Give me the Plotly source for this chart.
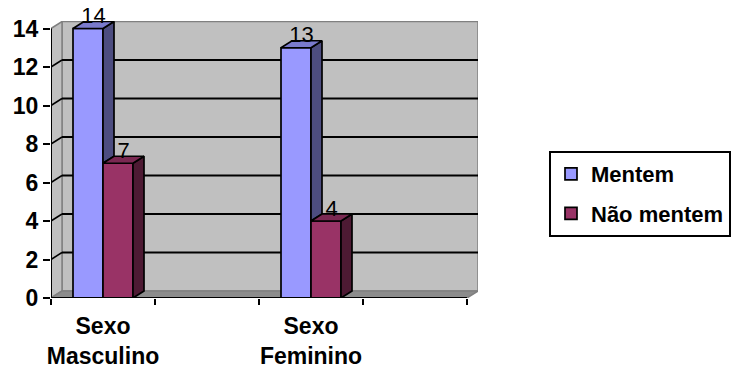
import plotly.graph_objects as go

# ---- data -------------------------------------------------------------
categories = ["Sexo<br>Masculino", "Sexo<br>Feminino"]
slots = [0, 2]                      # positions on a four-slot category axis
n_slots = 4
series_names = ["Mentem", "Não mentem"]
mentem = [14, 13]
nao_mentem = [7, 4]
y_ticks = [0, 2, 4, 6, 8, 10, 12, 14]

# ---- styling ------------------------------------------------------------
FONT = "Liberation Sans, Arial, sans-serif"
front_colors = ["#9999FF", "#993366"]
side_colors = ["#4D4D80", "#4D1A33"]
top_colors = ["#7A7ACC", "#7A2952"]
WALL = "#C0C0C0"
FLOOR = "#8C8C8C"
EDGE = "#808080"

# plot area in pixels and the oblique depth used for the 3-D look
L, T, W, H = 51, 21, 427, 277
FIG_W, FIG_H = 733, 368
X_MIN = -0.5
PX_PER_SLOT = 104.0
PX_PER_UNIT = 19.25
dx = 11 / PX_PER_SLOT
dy = 7 / PX_PER_UNIT
x_max = X_MIN + n_slots
y_top = max(y_ticks)
bar_w = 30 / PX_PER_SLOT
offsets = [-bar_w, 0.0]

fig = go.Figure()

series = [mentem, nao_mentem]

# front faces of the bars
for i, vals in enumerate(series):
    fig.add_trace(go.Bar(
        x=slots, y=vals, name=series_names[i],
        width=bar_w, offset=offsets[i],
        marker=dict(color=front_colors[i], line=dict(color="black", width=1.7)),
        legendgroup=series_names[i],
    ))

# side and top faces
for i, vals in enumerate(series):
    for j, v in enumerate(vals):
        x0 = slots[j] + offsets[i]
        x1 = x0 + bar_w
        # the part of the side face hidden by the next bar's front
        lo = min(series[i + 1][j], v) if i + 1 < len(series) else 0
        fig.add_trace(go.Scatter(
            x=[x1, x1, x1 + dx, x1 + dx, x1],
            y=[lo, v, v + dy, lo + dy, lo],
            mode="lines", fill="toself", fillcolor=side_colors[i],
            line=dict(color="black", width=1.7),
            showlegend=False, hoverinfo="skip",
        ))
        fig.add_trace(go.Scatter(
            x=[x0, x1, x1 + dx, x0 + dx, x0],
            y=[v, v, v + dy, v + dy, v],
            mode="lines", fill="toself", fillcolor=top_colors[i],
            line=dict(color="black", width=1.7),
            showlegend=False, hoverinfo="skip",
        ))

# value labels above each bar
for i, vals in enumerate(series):
    fig.add_trace(go.Scatter(
        x=[s + offsets[i] + bar_w / 2 + dx / 2 for s in slots],
        y=vals,
        text=[str(v) for v in vals],
        mode="text", textposition="top center",
        textfont=dict(family=FONT, size=22, color="black"),
        cliponaxis=False,
        showlegend=False, hoverinfo="skip",
    ))

# ---- walls, floor and gridlines -----------------------------------------
shapes = []
shapes.append(dict(type="rect", layer="below", xref="x", yref="y",
                   x0=X_MIN + dx, x1=x_max + dx, y0=dy, y1=y_top + dy,
                   fillcolor=WALL, line=dict(color=EDGE, width=1.5)))
shapes.append(dict(type="path", layer="below", xref="x", yref="y",
                   path=f"M{X_MIN},0 L{X_MIN + dx},{dy} L{X_MIN + dx},{y_top + dy} "
                        f"L{X_MIN},{y_top} Z",
                   fillcolor=WALL, line=dict(color=EDGE, width=1.5)))
shapes.append(dict(type="path", layer="below", xref="x", yref="y",
                   path=f"M{X_MIN},0 L{x_max},0 L{x_max + dx},{dy} L{X_MIN + dx},{dy} Z",
                   fillcolor=FLOOR, line=dict(color=EDGE, width=1.5)))
for v in y_ticks[1:-1]:
    shapes.append(dict(type="line", layer="below", xref="x", yref="y",
                       x0=X_MIN + dx, x1=x_max + dx, y0=v + dy, y1=v + dy,
                       line=dict(color="black", width=1.8)))
    shapes.append(dict(type="line", layer="below", xref="x", yref="y",
                       x0=X_MIN, x1=X_MIN + dx, y0=v, y1=v + dy,
                       line=dict(color="black", width=1.5)))
# axis lines
shapes.append(dict(type="line", layer="above", xref="x", yref="y",
                   x0=X_MIN, x1=X_MIN, y0=0, y1=y_top,
                   line=dict(color="black", width=2)))
shapes.append(dict(type="line", layer="above", xref="x", yref="y",
                   x0=X_MIN, x1=x_max, y0=0, y1=0,
                   line=dict(color="black", width=2)))

fig.update_layout(
    width=FIG_W, height=FIG_H,
    margin=dict(l=L, t=T, r=FIG_W - L - W, b=FIG_H - T - H, pad=0,
                autoexpand=False),
    paper_bgcolor="white", plot_bgcolor="white",
    barmode="overlay",
    shapes=shapes,
    font=dict(family=FONT, color="black"),
    showlegend=True,
    legend=dict(
        x=(549 - L) / W, y=(T + H - 151) / H, xanchor="left", yanchor="top",
        bordercolor="black", borderwidth=2, bgcolor="white",
        font=dict(family=FONT, size=22, color="black", weight="bold"),
        tracegroupgap=8,
    ),
    xaxis=dict(
        range=[X_MIN, X_MIN + W / PX_PER_SLOT], showgrid=False, zeroline=False,
        showline=False, tickmode="array", tickvals=slots, ticktext=categories,
        ticks="", tickfont=dict(family=FONT, size=23, color="black", weight="bold"),
        ticklabelstandoff=12,
        minor=dict(tickmode="array", tickvals=[X_MIN + k for k in range(n_slots + 1)],
                   ticks="outside", ticklen=6, tickwidth=2, tickcolor="black",
                   showgrid=False),
        fixedrange=True,
    ),
    yaxis=dict(
        range=[0, H / PX_PER_UNIT], showgrid=False, zeroline=False, showline=False,
        tickmode="array", tickvals=y_ticks, ticks="outside", ticklen=7,
        tickwidth=2, tickcolor="black",
        tickfont=dict(family=FONT, size=23, color="black", weight="bold"),
        fixedrange=True,
    ),
)

fig.write_html("out.html")
